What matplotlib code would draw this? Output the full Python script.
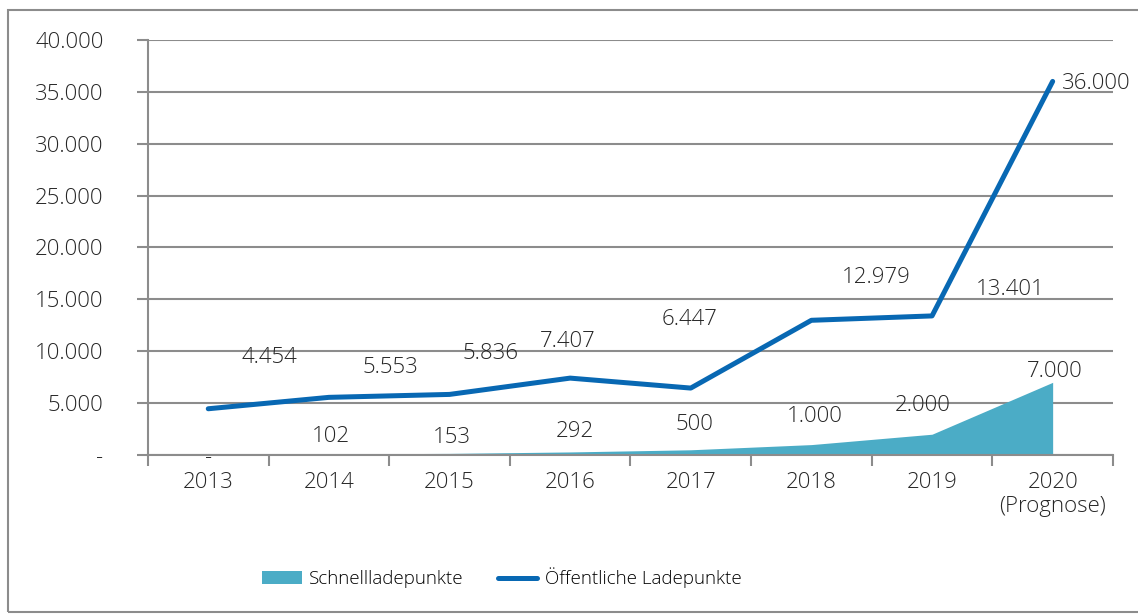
import matplotlib.pyplot as plt
import numpy as np
from matplotlib.patches import Rectangle
from matplotlib.lines import Line2D
from matplotlib.patches import Patch
from matplotlib.ticker import FuncFormatter

plt.rcParams['font.family'] = ['Open Sans', 'DejaVu Sans']

years = ["2013", "2014", "2015", "2016", "2017", "2018", "2019", "2020\n(Prognose)"]
schnell = [0, 102, 153, 292, 500, 1000, 2000, 7000]
oeffentlich = [4454, 5553, 5836, 7407, 6447, 12979, 13401, 36000]

# label positions (x in category units, y in data units) as Excel placed them
line_lbl_x = [0.51, 1.51, 2.34, 2.98, 3.99, 5.54, 6.65, 7.08]
line_lbl_y = [9350, 8390, 9740, 10890, 13010, 17060, 15900, 35760]
area_lbl_x = [0.0, 1.02, 2.02, 3.04, 4.03, 5.03, 5.92, 7.02]
area_lbl_y = [-250, 1740, 1640, 2220, 2890, 3660, 4720, 8000]

line_color = "#0868b3"
area_color = "#4bacc6"
grid_color = "#8c8c8c"
text_color = "#262626"
fs = 16


def fmt(v):
    if v == 0:
        return "-"
    return f"{v:,.0f}".replace(",", ".")


fig = plt.figure(figsize=(11.38, 6.14), dpi=100)
ax = fig.add_axes([0.130, 0.259, 0.848, 0.676])

x = np.arange(len(years))
ax.fill_between(x, schnell, 0, color=area_color, linewidth=0, zorder=2)
ax.plot(x, oeffentlich, color=line_color, linewidth=3.6, solid_capstyle='round', zorder=3)

for xi, yi, v in zip(line_lbl_x, line_lbl_y, oeffentlich):
    ha = 'left' if v == 36000 else 'center'
    ax.text(xi, yi, fmt(v), ha=ha, va='center', fontsize=fs, color=text_color,
            fontweight='light', zorder=4)
for xi, yi, v in zip(area_lbl_x, area_lbl_y, schnell):
    ax.text(xi, yi, fmt(v), ha='center', va='center', fontsize=fs, color=text_color,
            fontweight='light', zorder=4, clip_on=False)

ax.set_xlim(-0.5, 7.5)
ax.set_ylim(0, 40000)
ax.set_yticks(np.arange(0, 40001, 5000))
ax.yaxis.set_major_formatter(FuncFormatter(lambda v, p: fmt(v)))
ax.set_xticks(x)
ax.set_xticklabels(years, fontweight='light')
ax.set_xticks(np.arange(-0.5, 7.6, 1), minor=True)
ax.tick_params(axis='x', which='major', length=0, pad=12, labelsize=fs, labelcolor=text_color)
ax.tick_params(axis='x', which='minor', length=8, color=grid_color, width=1.5)
ax.tick_params(axis='y', length=8, color=grid_color, width=1.5, pad=24, labelsize=fs, labelcolor=text_color)
for t in ax.get_yticklabels():
    t.set_fontweight('light')
ax.grid(axis='y', color=grid_color, linewidth=1.5, zorder=0)
ax.set_axisbelow(True)
for s in ['top', 'right']:
    ax.spines[s].set_visible(False)
for s in ['left', 'bottom']:
    ax.spines[s].set_color(grid_color)
    ax.spines[s].set_linewidth(1.5)

handles = [Patch(facecolor=area_color, edgecolor='none'),
           Line2D([0], [0], color=line_color, linewidth=3.6, solid_capstyle='round')]
fig.legend(handles, ["Schnellladepunkte", "Öffentliche Ladepunkte"], loc='center',
           bbox_to_anchor=(0.441, 0.059), ncol=2, frameon=False,
           prop={'size': 13.5, 'weight': 'light'},
           handlelength=2.1, handletextpad=0.4, columnspacing=1.8)

fig.patches.append(Rectangle((8 / 1138, 0.004), 1.2, 0.98, transform=fig.transFigure,
                             fill=False, edgecolor=grid_color, linewidth=1.5))

plt.savefig("out.png", dpi=100)
